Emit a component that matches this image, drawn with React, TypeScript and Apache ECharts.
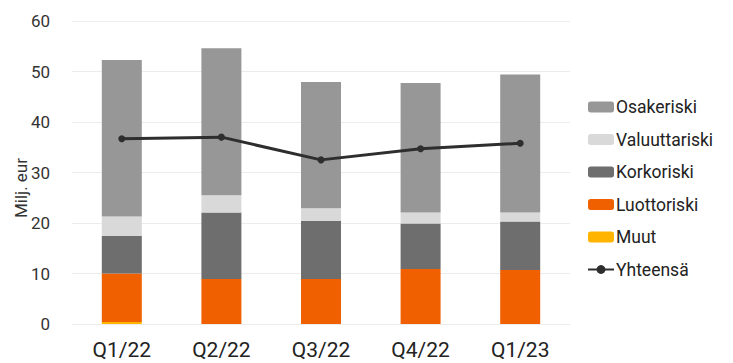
import React, { useEffect, useRef } from "react";
import * as echarts from "echarts";

const categories = ["Q1/22", "Q2/22", "Q3/22", "Q4/22", "Q1/23"];
const muut = [0.4, 0, 0, 0, 0];
const luottoriski = [9.6, 8.9, 8.9, 10.9, 10.7];
const korkoriski = [7.5, 13.2, 11.5, 9.0, 9.6];
const valuuttariski = [3.8, 3.4, 2.5, 2.2, 1.8];
const osakeriski = [31.0, 29.1, 25.0, 25.6, 27.3];
const yhteensa = [36.7, 37.0, 32.5, 34.7, 35.8];
const yTicks = { min: 0, max: 60, interval: 10 };

const FONT = "Roboto";

export default function App() {
  const ref = useRef<HTMLDivElement>(null);
  useEffect(() => {
    if (!ref.current) return;
    const chart = echarts.init(ref.current, undefined, { renderer: "svg" });
    const bar = (name: string, data: number[], color: string) => ({
      name,
      type: "bar",
      stack: "total",
      barWidth: 40,
      data,
      itemStyle: { color },
      emphasis: { disabled: true },
    });
    chart.setOption({
      animation: false,
      textStyle: { fontFamily: FONT },
      grid: { left: 72, right: 163, top: 21, bottom: 39 },
      legend: {
        orient: "vertical",
        left: 582,
        top: 93,
        itemWidth: 26,
        itemHeight: 11,
        itemGap: 14.5,
        textStyle: { fontSize: 17.5, color: "#222", fontFamily: FONT, padding: [0, 0, 0, -3] },
        data: ["Osakeriski", "Valuuttariski", "Korkoriski", "Luottoriski", "Muut", "Yhteensä"],
      },
      xAxis: {
        type: "category",
        data: categories,
        axisLine: { show: false },
        axisTick: { show: false },
        axisLabel: { fontSize: 21, color: "#222", margin: 15 },
      },
      yAxis: {
        type: "value",
        min: yTicks.min,
        max: yTicks.max,
        interval: yTicks.interval,
        axisLabel: { fontSize: 17, color: "#333", margin: 22 },
        splitLine: { lineStyle: { color: "#ececec", width: 1 } },
        axisLine: { show: false },
      },
      graphic: [
        {
          type: "text",
          x: 21,
          y: 188,
          rotation: Math.PI / 2,
          style: {
            text: "Milj. eur",
            fontSize: 17,
            fill: "#333",
            fontFamily: FONT,
            align: "center",
            verticalAlign: "middle",
          },
        },
      ],
      series: [
        bar("Muut", muut, "#ffb400"),
        bar("Luottoriski", luottoriski, "#f06000"),
        bar("Korkoriski", korkoriski, "#6e6e6e"),
        bar("Valuuttariski", valuuttariski, "#d9d9d9"),
        bar("Osakeriski", osakeriski, "#979797"),
        {
          name: "Yhteensä",
          type: "line",
          data: yhteensa,
          symbol: "circle",
          symbolSize: 7,
          itemStyle: { color: "#2e2e2e" },
          lineStyle: { color: "#2e2e2e", width: 3 },
          z: 5,
        },
      ],
    });
    return () => chart.dispose();
  }, []);
  return <div ref={ref} style={{ width: 733, height: 363, position: "absolute", left: 0, top: 0 }} />;
}
